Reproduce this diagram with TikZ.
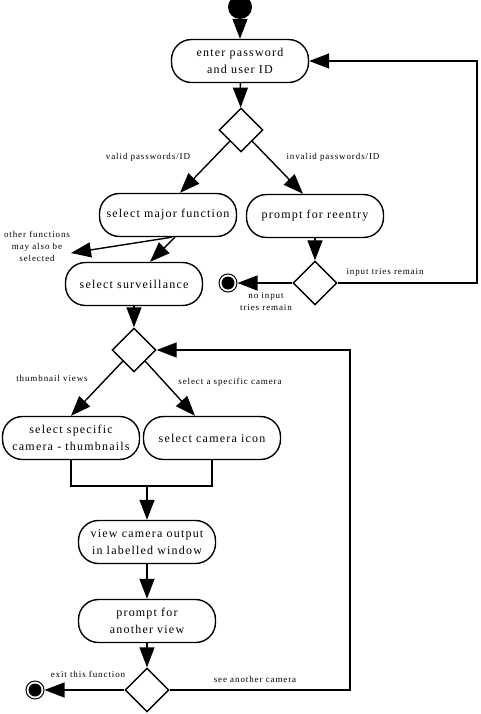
\documentclass[tikz,border=0pt]{standalone}
\usepackage{fontspec}
\setmainfont{Liberation Serif}[LetterSpace=10]
\usetikzlibrary{arrows.meta, shapes.geometric}

\begin{document}
\begin{tikzpicture}[x=1pt, y=-1pt,
    line width=1.4pt,
    >={Triangle[length=20pt, width=15pt]},
act/.style  = {draw, rectangle, rounded corners=20pt, minimum width=137pt,
               minimum height=43pt, align=center, inner sep=2pt,
               font=\fontsize{12}{17}\selectfont},
dec/.style  = {draw, diamond, minimum size=44pt, inner sep=0pt},
lbl/.style  = {font=\fontsize{9}{12}\selectfont, align=center, inner sep=1pt},
fin/.style  = {circle, draw, line width=1pt, minimum size=18pt, inner sep=0pt,
               path picture={\fill (path picture bounding box.center) circle (6.5pt);}},
init/.style = {circle, fill, minimum size=24pt, inner sep=0pt},
                    ]
\useasboundingbox (0,0) rectangle (480,714);
% activities and decisions
\node[init] (start)   at (240,7)   {};
\node[act]  (pwd)     at (240,61)  {enter password\\and user ID};
\node[dec]  (d1)      at (241,130) {};
\node[act]  (major)   at (168,215) {select major function};
\node[act]  (reentry) at (315,216) {prompt for reentry};
\node[act]  (surv)    at (134,284) {select surveillance};
\node[dec]  (d2)      at (315,283) {};
\node[fin]  (stop1)   at (228,283) {};
\node[dec]  (d3)      at (134,350) {};
\node[act]  (thumb)   at (71,438)  {select specific\\camera - thumbnails};
\node[act]  (icon)    at (212,438) {select camera icon};
\node[act]  (view)    at (147,542) {view camera output\\in labelled window};
\node[act]  (again)   at (147,621) {prompt for\\another view};
\node[dec]  (d4)      at (147,690) {};
\node[fin]  (stop2)   at (35,690)  {};
% guards
\node[lbl] (lvalid)   at (148,157) {valid passwords/ID};
\node[lbl] (linvalid) at (333,157) {invalid passwords/ID};
\node[lbl] (lother)   at (37,246)  {other functions\\may also be\\selected};
\node[lbl] (ltries)   at (385,272) {input tries remain};
\node[lbl] (lnone)    at (266,302) {no input\\tries remain};
\node[lbl] (lthumb)   at (52,378)  {thumbnail views};
\node[lbl] (lcam)     at (230,382) {select a specific camera};
\node[lbl] (lexit)    at (88,674)  {exit this function};
\node[lbl] (lsee)     at (255,679) {see another camera};
%
\coordinate (oth)  at (71,253);
\coordinate (r1)   at (477,283);
\coordinate (join) at (147,486);
\coordinate (r2)   at (350,690);
%
\draw[->] (start) -- (pwd);
\draw[->] (pwd) -- (d1);
\draw[->] (d1.south west) -- ([xshift=12pt] major.north);
\draw[->] (d1.south east) -- ([xshift=-12pt] reentry.north);
\draw[->] ([xshift=4pt] major.south) -- (oth);
\draw[->] ([xshift=7pt] major.south) -- ([xshift=16pt] surv.north);
\draw[->] (reentry) -- (d2);
\draw[->] (d2) -- (stop1);
\draw[->] (d2.east) -- (r1) |- (pwd.east);
\draw[->] (surv) -- (d3);
\draw[->] (d3.south west) -- (thumb.north);
\draw[->] (d3.south east) -- ([xshift=-17pt] icon.north);
\draw     (thumb.south) |- (join) -| (icon.south);
\draw[->] (join) -- (view);
\draw[->] (view) -- (again);
\draw[->] (again) -- (d4);
\draw[->] (d4) -- (stop2);
\draw[->] (d4.east) -- (r2) |- (d3.east);
%
\end{tikzpicture}
\end{document}
